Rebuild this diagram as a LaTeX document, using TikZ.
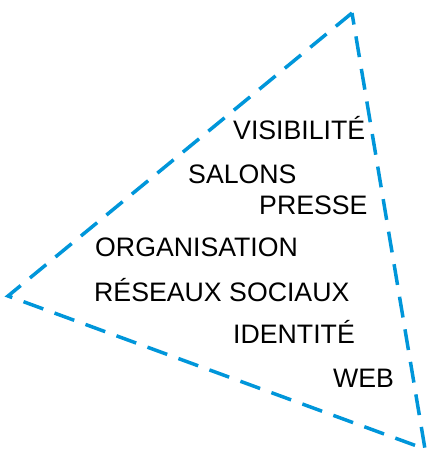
\documentclass[tikz,border=0pt]{standalone}
\usepackage{fontspec}
\setmainfont{Liberation Sans}
\usepackage{tikz}
\definecolor{dashblue}{RGB}{0,150,218}
\tikzset{
	level/.style={anchor=base west, inner sep=0pt, font=\fontsize{26.7}{27}\selectfont},
	border/.style={dashblue, line width=3.5pt, dash pattern=on 21pt off 12pt}
}

\begin{document}
\begin{tikzpicture}[x=1pt, y=-1pt]
		\useasboundingbox(0, 0)rectangle(430, 457);
		\coordinate(top)at(352, 13);
		\coordinate(left)at(8, 296);
		\coordinate(bottom)at(425, 449);
		\draw[border](top)--(left)--(bottom)--cycle;
		\node[level](vis)at(233, 140){VISIBILITÉ};
		\node[level](sal)at(188, 183){SALONS};
		\node[level](pre)at(259, 214){PRESSE};
		\node[level](org)at(95, 256){ORGANISATION};
		\node[level](res)at(94, 301){RÉSEAUX SOCIAUX};
		\node[level](ide)at(233, 343){IDENTITÉ};
		\node[level](web)at(333, 387){WEB};
	\end{tikzpicture}
\end{document}
